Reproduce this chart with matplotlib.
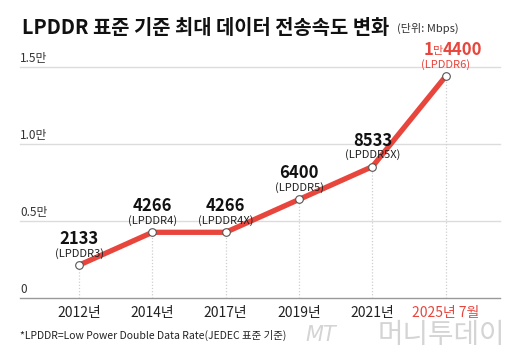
import matplotlib
matplotlib.use("Agg")
import matplotlib.pyplot as plt
import matplotlib.transforms as mtransforms

plt.rcParams['font.family'] = ['Noto Sans CJK KR', 'DejaVu Sans']

years = ['2012년', '2014년', '2017년', '2019년', '2021년', '2025년 7월']
speeds = [2133, 4266, 4266, 6400, 8533, 14400]
names = ['LPDDR3', 'LPDDR4', 'LPDDR4X', 'LPDDR5', 'LPDDR5X', 'LPDDR6']
ytick_vals = [0, 5000, 10000, 15000]
ytick_labels = ['0', '0.5만', '1.0만', '1.5만']

RED = '#e8453c'
x = list(range(len(years)))

fig = plt.figure(figsize=(5.2, 3.64), dpi=100)
ax = fig.add_axes([20 / 520, (364 - 298) / 364, 480 / 520, 231 / 364])
ax.set_xlim(-0.805, 5.74)
ax.set_ylim(0, 15000)
for s in ax.spines.values():
    s.set_visible(False)
ax.set_xticks([])
ax.set_yticks([])

# grid lines
for v in ytick_vals:
    ax.axhline(v, color='#999999' if v == 0 else '#dcdcdc', lw=1, zorder=1, clip_on=False)
trans = mtransforms.blended_transform_factory(ax.transAxes, ax.transData)
for v, lab in zip(ytick_vals, ytick_labels):
    ax.annotate(lab, (0, v), xycoords=trans, xytext=(0, 2), textcoords='offset pixels',
                ha='left', va='bottom', fontsize=8.5, color='#333333')

# vertical dotted guides
ax.vlines(x, 0, speeds, colors='#cfcfcf', linestyles=(0, (1, 1.5)), lw=0.9, zorder=1)

# line and markers
ax.plot(x, speeds, color=RED, lw=3.8, solid_capstyle='round', zorder=3, clip_on=False)
ax.plot(x, speeds, 'o', ms=5.5, mfc='white', mec='#555555', mew=0.8, zorder=4, clip_on=False)

# value labels
for xi, v, n in zip(x[:-1], speeds[:-1], names[:-1]):
    ax.annotate(str(v), (xi, v), xytext=(0, 26), textcoords='offset pixels',
                ha='center', va='center', fontsize=12, fontweight='bold', color='#111111',
                zorder=5)
    ax.annotate('(' + n + ')', (xi, v), xytext=(0, 12), textcoords='offset pixels',
                ha='center', va='center', fontsize=8, color='#222222', zorder=5)

xl, vl = x[-1], speeds[-1]
ax.annotate(str(vl % 10000), (xl, vl), xytext=(-3, 26), textcoords='offset pixels',
            ha='left', va='center', fontsize=12, fontweight='bold', color=RED)
ax.annotate('만', (xl, vl), xytext=(-3, 25), textcoords='offset pixels',
            ha='right', va='center', fontsize=8, color=RED)
ax.annotate(str(vl // 10000), (xl, vl), xytext=(-12, 26), textcoords='offset pixels',
            ha='right', va='center', fontsize=12, fontweight='bold', color=RED)
ax.annotate('(' + names[-1] + ')', (xl, vl), xytext=(0, 12), textcoords='offset pixels',
            ha='center', va='center', fontsize=8, color=RED)

# x labels
for xi, lab in zip(x, years):
    ax.annotate(lab, (xi, 0), xytext=(0, -15), textcoords='offset pixels',
                ha='center', va='center', fontsize=10,
                color=RED if xi == x[-1] else '#222222')

# title
fig.text(22 / 520, 1 - 27 / 364, 'LPDDR 표준 기준 최대 데이터 전송속도 변화',
         ha='left', va='center', fontsize=14.3, fontweight='bold', color='#111111')
fig.text(397 / 520, 1 - 28 / 364, '(단위: Mbps)', ha='left', va='center',
         fontsize=8, color='#333333')

# footnote
fig.text(20 / 520, 1 - 335 / 364, '*LPDDR=Low Power Double Data Rate(JEDEC 표준 기준)',
         ha='left', va='center', fontsize=7.5, color='#222222')

# watermark
fig.text(305 / 520, 1 - 335 / 364, 'MT', ha='left', va='center', fontsize=15,
         style='italic', color='#d4d4d4', family='DejaVu Sans')
fig.text(505 / 520, 1 - 335 / 364, '머니투데이', ha='right', va='center', fontsize=20,
         fontweight='light', color='#d4d4d4')

fig.savefig('out.png', dpi=100, facecolor='white')
